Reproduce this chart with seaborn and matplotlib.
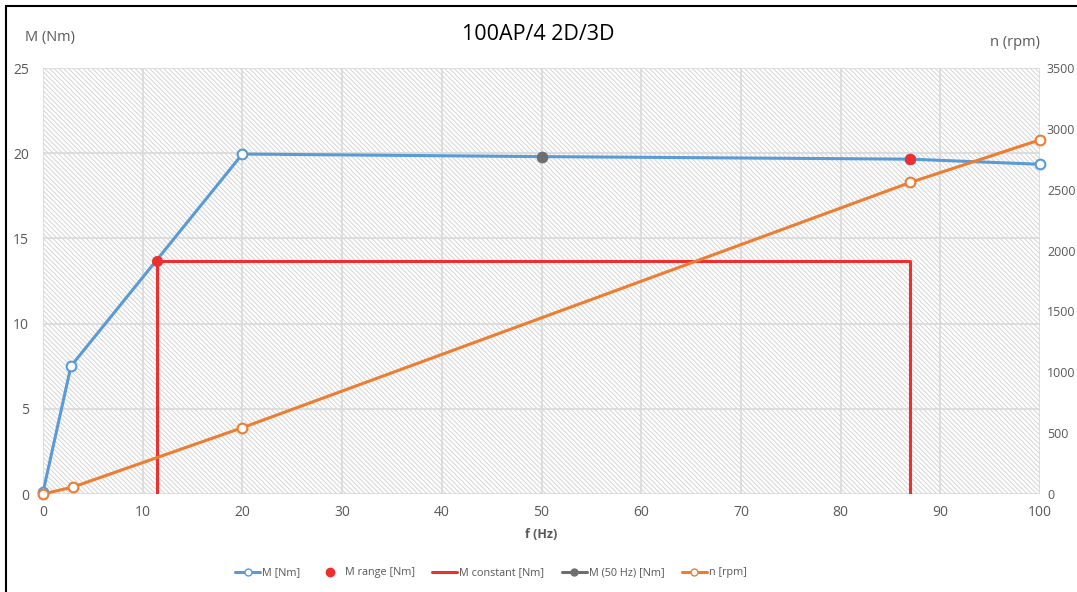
import numpy as np
import pandas as pd
import seaborn as sns
import matplotlib.pyplot as plt
from matplotlib.lines import Line2D
from matplotlib.patches import Rectangle

# data
f_m = [0, 2.8, 20, 50, 87, 100]
m_nm = [0.1, 7.5, 19.95, 19.8, 19.65, 19.35]

f_range = [11.4, 87]
m_range = [13.7, 19.65]

f_const = [11.4, 11.4, 87, 87]
m_const = [0, 13.7, 13.7, 0]

f_50 = [50]
m_50 = [19.8]

f_n = [0, 3, 20, 87, 100]
n_rpm = [0, 57, 545, 2560, 2910]

BLUE = "#5B9BD5"
ORANGE = "#ED7D31"
RED = "#EE2F2F"
GRAY = "#6E6E6E"
TXT = "#595959"

sns.set_theme(style="white")
plt.rcParams['font.family'] = ['Open Sans', 'DejaVu Sans']
plt.rcParams['hatch.linewidth'] = 0.7
plt.rcParams['hatch.color'] = "#d4d4d4"

fig = plt.figure(figsize=(10.77, 5.92), dpi=100)
ax = fig.add_axes([43/1077, 1 - 494/592, (1040-43)/1077, (494-68)/592])
ax2 = ax.twinx()

# hatched background
ax.add_patch(Rectangle((0, 0), 100, 25, facecolor="white", edgecolor="#d4d4d4",
                       hatch="\\" * 7, linewidth=0, zorder=0))

ax.set_xlim(0, 100)
ax.set_ylim(0, 25)
ax.set_xticks(np.arange(0, 101, 10))
ax.set_yticks(np.arange(0, 26, 5))
ax.grid(True, color="#d9d9d9", linewidth=1.2, zorder=1)
ax.set_axisbelow(True)
for a in (ax, ax2):
    for s in a.spines.values():
        s.set_visible(False)
    a.tick_params(length=0, labelsize=10, labelcolor=TXT)
ax.tick_params(axis="x", pad=8)
ax.tick_params(axis="y", pad=10)
ax2.tick_params(axis="y", pad=5, labelsize=9)

# M constant
sns.lineplot(x=f_const, y=m_const, sort=False, ax=ax, color=RED, linewidth=2.2,
             estimator=None, zorder=3)
# M curve
sns.lineplot(x=f_m, y=m_nm, sort=False, ax=ax, color=BLUE, linewidth=2.2, marker="o",
             markersize=7, markerfacecolor="white", markeredgecolor=BLUE,
             markeredgewidth=1.5, estimator=None, zorder=4, clip_on=False)
# M range
sns.scatterplot(x=f_range, y=m_range, ax=ax, color=RED, s=55, edgecolor=RED, zorder=6)
# M 50 Hz
sns.scatterplot(x=f_50, y=m_50, ax=ax, color=GRAY, s=55, edgecolor=GRAY, zorder=6)

# n on secondary axis
sns.lineplot(x=f_n, y=n_rpm, sort=False, ax=ax2, color=ORANGE, linewidth=2.2, marker="o",
             markersize=7, markerfacecolor="white", markeredgecolor=ORANGE,
             markeredgewidth=1.5, estimator=None, zorder=5, clip_on=False)
ax2.set_ylim(0, 3500)
ax2.set_yticks(np.arange(0, 3501, 500))
ax.set_xlim(0, 100)
ax.set_ylim(0, 25)

ax.set_xlabel("f (Hz)", fontsize=9, fontweight="bold", color=TXT, labelpad=6)
ax.set_ylabel("")
ax2.set_ylabel("")

fig.text(0.5, 1 - 35/592, "100AP/4 2D/3D", ha="center", va="center", fontsize=15.5, color="black")
fig.text(25/1077, 1 - 37/592, "M (Nm)", ha="left", va="center", fontsize=10.5, color=TXT)
fig.text(1040/1077, 1 - 42/592, "n (rpm)", ha="right", va="center", fontsize=10.5, color=TXT)

handles = [
    Line2D([], [], color=BLUE, linewidth=2.2, marker="o", markersize=5,
           markerfacecolor="white", markeredgecolor=BLUE),
    Line2D([], [], color=RED, linestyle="none", marker="o", markersize=6),
    Line2D([], [], color=RED, linewidth=2.2),
    Line2D([], [], color=GRAY, linewidth=2.2, marker="o", markersize=5),
    Line2D([], [], color=ORANGE, linewidth=2.2, marker="o", markersize=5,
           markerfacecolor="white", markeredgecolor=ORANGE),
]
labels = ["M [Nm]", "M range [Nm]", "M constant [Nm]", "M (50 Hz) [Nm]", "n [rpm]"]
leg = fig.legend(handles, labels, loc="center", bbox_to_anchor=(491/1077, 1 - 573/592),
                 ncol=5, frameon=False, fontsize=7.8, handlelength=2.3, columnspacing=1.6,
                 handletextpad=0.2)
for t in leg.get_texts():
    t.set_color(TXT)

# chart border (cut off on right and bottom)
fig.patches.append(Rectangle((6/1077, -0.2), 1.2, 1.2 - 6/592, transform=fig.transFigure,
                             fill=False, edgecolor="black", linewidth=1.5))

fig.savefig("out.png", dpi=100)
